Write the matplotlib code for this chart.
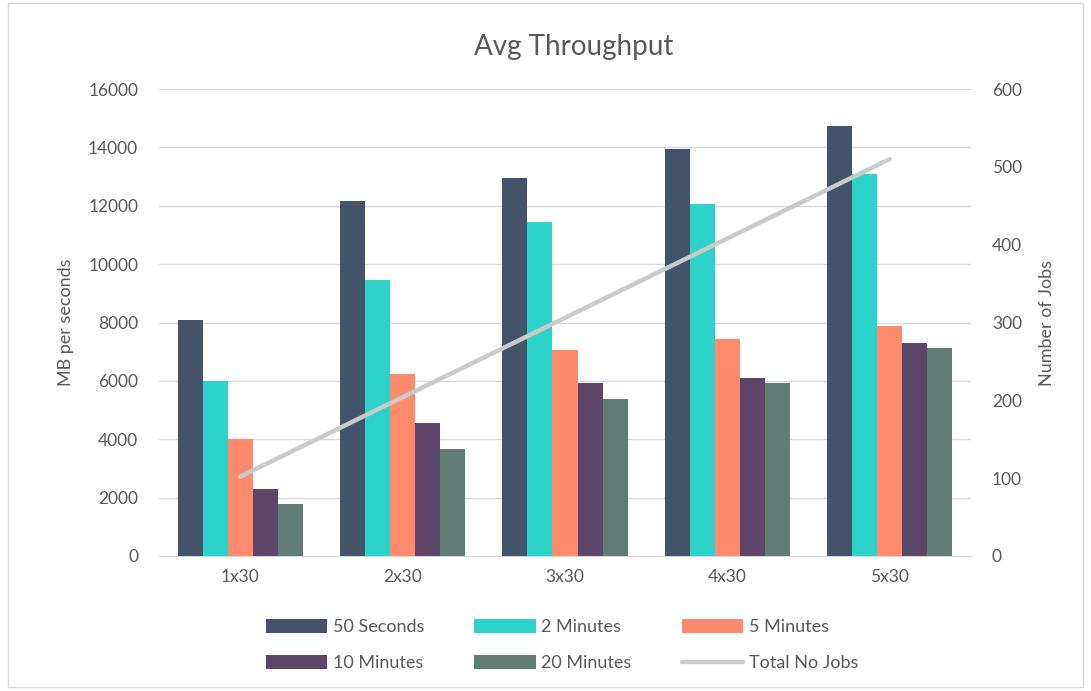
import numpy as np
import matplotlib.pyplot as plt
from matplotlib.patches import Rectangle

# Data
categories = ["1x30", "2x30", "3x30", "4x30", "5x30"]
series_names = ["50 Seconds", "2 Minutes", "5 Minutes", "10 Minutes", "20 Minutes"]
sec_50 = [8080, 12170, 12960, 13950, 14740]
min_2 = [6000, 9470, 11430, 12070, 13080]
min_5 = [4000, 6230, 7070, 7420, 7890]
min_10 = [2290, 4570, 5920, 6110, 7290]
min_20 = [1780, 3670, 5370, 5920, 7130]
total_jobs = [102, 204, 306, 408, 510]

colors = ["#43546A", "#2DD3C9", "#FF8A6E", "#5C4669", "#617C75"]
line_color = "#C8CBCA"
text_color = "#595959"
grid_color = "#D9D9D9"

plt.rcParams['font.family'] = ['Lato', 'DejaVu Sans']

fig = plt.figure(figsize=(10.91, 6.91), dpi=100)
ax = fig.add_axes([159 / 1091, 1 - 556 / 691, (971 - 159) / 1091, (556 - 89) / 691])
ax2 = ax.twinx()

x = np.arange(len(categories))
w = 0.154
all_series = [sec_50, min_2, min_5, min_10, min_20]
handles = []
for i, (vals, name) in enumerate(zip(all_series, series_names)):
    b = ax.bar(x + (i - 2) * w, vals, w, color=colors[i], label=name, zorder=3)
    handles.append(b)

ln, = ax2.plot(x, total_jobs, color=line_color, lw=3.2, solid_capstyle='round',
               label="Total No Jobs", zorder=4)

ax.set_xlim(-0.5, len(categories) - 0.5)
ax.set_ylim(0, 16000)
ax.set_yticks(range(0, 16001, 2000))
ax2.set_ylim(0, 600)
ax2.set_yticks(range(0, 601, 100))

ax.grid(axis='y', color=grid_color, lw=1, zorder=0)
ax.set_axisbelow(True)
# keep the line above bars
ax.set_zorder(0)
ax2.set_zorder(1)
ax2.patch.set_visible(False)

for a in (ax, ax2):
    for s in a.spines.values():
        s.set_visible(False)
    a.tick_params(length=0, colors=text_color, labelsize=12.5)
ax.spines['bottom'].set_visible(True)
ax.spines['bottom'].set_color(grid_color)

ax.set_xticks(x)
ax.set_xticklabels(categories)
ax.tick_params(axis='x', pad=9)
ax.tick_params(axis='y', pad=15)
ax2.tick_params(axis='y', pad=15)

ax.set_ylabel("MB per seconds", color=text_color, fontsize=13, labelpad=10)
ax2.set_ylabel("Number of Jobs", color=text_color, fontsize=13, labelpad=12)
fig.text(574 / 1091, 1 - 47 / 691, "Avg Throughput", ha='center', va='center',
         fontsize=20, color=text_color)

order = [handles[0], handles[3], handles[1], handles[4], handles[2], ln]
fig.legend(order, [h.get_label() for h in order], ncol=3, frameon=False,
           loc='center', bbox_to_anchor=(562 / 1091, 1 - 645 / 691),
           fontsize=13, labelcolor=text_color, handlelength=3.4, handleheight=0.8,
           columnspacing=2.8, handletextpad=0.3, labelspacing=1.1)

fig.patches.append(Rectangle((8 / 1091, 4 / 691), 1075 / 1091, 684 / 691,
                             transform=fig.transFigure, fill=False,
                             edgecolor=grid_color, lw=1))

fig.savefig("out.png", dpi=100)
